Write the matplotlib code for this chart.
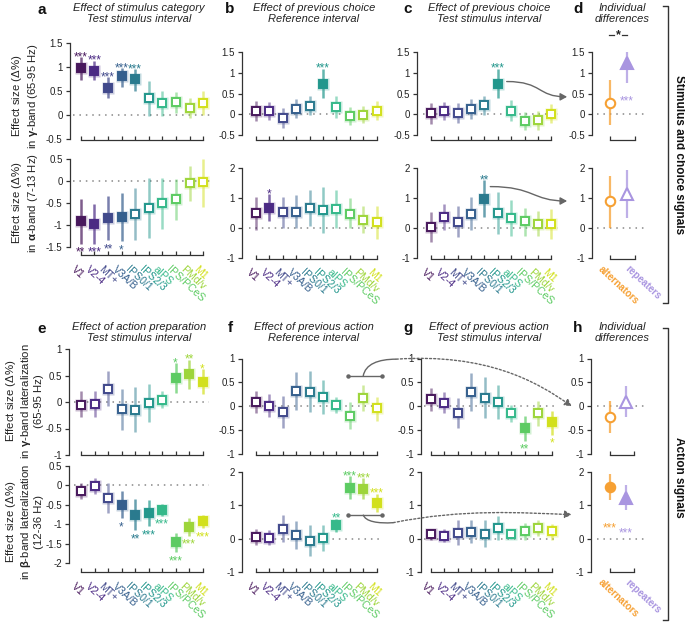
import matplotlib
matplotlib.use('Agg')
import matplotlib.pyplot as plt
from matplotlib.path import Path
from matplotlib.patches import FancyArrowPatch, PathPatch

plt.rcParams['font.family'] = ['Liberation Sans', 'DejaVu Sans']
plt.rcParams['axes.unicode_minus'] = False
plt.rcParams['mathtext.fontset'] = 'custom'
plt.rcParams['mathtext.rm'] = 'Liberation Sans'
plt.rcParams['mathtext.it'] = 'Liberation Sans:italic'
plt.rcParams['mathtext.bf'] = 'Liberation Sans:bold'

# ---------------- data ----------------
regions = ['V1', 'V2-4', 'MT+', 'V3A/B', 'IPS0/1', 'IPS2/3', 'aIPS', 'IPS/PCeS', 'PMd/v', 'M1']
region_colors = ['#48185c', '#4b2a84', '#41498b', '#355f8d', '#2a7a8e', '#22978c',
                 '#35b98a', '#5ccb62', '#9dd53a', '#d2e01c']
groups = ['alternators', 'repeaters']
group_colors = ['#f6a033', '#a995e0']
group_markers = ['o', '^']

# a: stimulus category, test interval
a_gamma_mean = [0.98, 0.92, 0.57, 0.81, 0.74, 0.35, 0.24, 0.28, 0.14, 0.24]
a_gamma_lo = [0.73, 0.72, 0.35, 0.59, 0.51, -0.03, -0.03, 0.05, -0.07, 0.00]
a_gamma_hi = [1.21, 1.13, 0.79, 0.98, 0.96, 0.70, 0.49, 0.47, 0.35, 0.50]
a_gamma_stars = ['***', '***', '***', '***', '***', '', '', '', '', '']
a_alpha_mean = [-0.91, -0.98, -0.84, -0.81, -0.74, -0.62, -0.51, -0.42, -0.04, -0.03]
a_alpha_lo = [-1.43, -1.43, -1.35, -1.37, -1.35, -1.30, -1.10, -0.88, -0.45, -0.60]
a_alpha_hi = [-0.40, -0.53, -0.33, -0.27, -0.15, 0.07, 0.07, 0.05, 0.35, 0.50]
a_alpha_stars = ['**', '***', '**', '*', '', '', '', '', '', '']

# b: previous choice, reference interval
b_gamma_mean = [0.08, 0.08, -0.09, 0.13, 0.20, 0.74, 0.17, -0.04, -0.01, 0.08]
b_gamma_lo = [-0.17, -0.14, -0.33, -0.10, -0.03, 0.38, -0.10, -0.25, -0.22, -0.15]
b_gamma_hi = [0.33, 0.30, 0.14, 0.37, 0.43, 1.10, 0.45, 0.18, 0.20, 0.33]
b_gamma_stars = ['', '', '', '', '', '***', '', '', '', '']
b_alpha_mean = [0.50, 0.68, 0.52, 0.54, 0.66, 0.60, 0.62, 0.48, 0.27, 0.20]
b_alpha_lo = [-0.05, 0.22, 0.00, 0.00, 0.08, -0.15, 0.00, 0.00, -0.15, -0.35]
b_alpha_hi = [1.03, 1.12, 1.02, 1.10, 1.27, 1.38, 1.27, 1.00, 0.72, 0.72]
b_alpha_stars = ['', '*', '', '', '', '', '', '', '', '']

# c: previous choice, test interval
c_gamma_mean = [0.02, 0.08, 0.02, 0.12, 0.22, 0.74, 0.09, -0.17, -0.14, 0.01]
c_gamma_lo = [-0.23, -0.15, -0.22, -0.12, -0.02, 0.40, -0.17, -0.38, -0.37, -0.20]
c_gamma_hi = [0.27, 0.30, 0.27, 0.36, 0.45, 1.10, 0.35, 0.05, 0.07, 0.25]
c_gamma_stars = ['', '', '', '', '', '***', '', '', '', '']
c_alpha_mean = [0.03, 0.36, 0.20, 0.48, 0.98, 0.50, 0.34, 0.22, 0.15, 0.12]
c_alpha_lo = [-0.48, -0.08, -0.30, -0.05, 0.38, -0.20, -0.25, -0.25, -0.25, -0.38]
c_alpha_hi = [0.55, 0.80, 0.72, 1.03, 1.60, 1.20, 0.92, 0.68, 0.57, 0.65]
c_alpha_stars = ['', '', '', '', '**', '', '', '', '', '']

# d: individual differences (choice)
d_gamma_mean = [0.27, 1.23]
d_gamma_lo = [-0.27, 0.75]
d_gamma_hi = [0.82, 1.70]
d_gamma_filled = [False, True]
d_alpha_mean = [0.90, 1.15]
d_alpha_lo = [0.00, 0.33]
d_alpha_hi = [1.75, 1.92]
d_alpha_filled = [False, False]

# e: action preparation, test interval
e_gamma_mean = [-0.05, -0.04, 0.25, -0.14, -0.15, -0.01, 0.04, 0.45, 0.53, 0.38]
e_gamma_lo = [-0.28, -0.28, -0.08, -0.52, -0.57, -0.37, -0.12, 0.17, 0.25, 0.15]
e_gamma_hi = [0.20, 0.20, 0.58, 0.25, 0.28, 0.34, 0.20, 0.73, 0.80, 0.62]
e_gamma_stars = ['', '', '', '', '', '', '', '*', '**', '*']
e_beta_mean = [-0.15, -0.02, -0.33, -0.50, -0.77, -0.72, -0.64, -1.47, -1.08, -0.93]
e_beta_lo = [-0.35, -0.22, -0.72, -0.85, -1.15, -1.05, -0.78, -1.72, -1.30, -1.10]
e_beta_hi = [0.05, 0.18, 0.05, -0.15, -0.35, -0.37, -0.48, -1.22, -0.85, -0.75]
e_beta_stars = ['', '', '', '*', '**', '***', '***', '***', '***', '***']

# f: previous action, reference interval
f_gamma_mean = [0.08, 0.01, -0.12, 0.32, 0.30, 0.19, 0.02, -0.20, 0.18, -0.04]
f_gamma_lo = [-0.15, -0.23, -0.45, -0.08, -0.13, -0.17, -0.15, -0.48, -0.10, -0.30]
f_gamma_hi = [0.32, 0.25, 0.22, 0.72, 0.73, 0.55, 0.20, 0.08, 0.45, 0.20]
f_gamma_stars = [''] * 10
f_beta_mean = [0.04, 0.03, 0.30, 0.10, -0.06, 0.02, 0.40, 1.52, 1.50, 1.07]
f_beta_lo = [-0.20, -0.20, -0.10, -0.30, -0.52, -0.37, 0.20, 1.18, 1.20, 0.80]
f_beta_hi = [0.28, 0.27, 0.70, 0.52, 0.42, 0.42, 0.60, 1.88, 1.82, 1.35]
f_beta_stars = ['', '', '', '', '', '', '**', '***', '***', '***']

# g: previous action, test interval
g_gamma_mean = [0.15, 0.07, -0.14, 0.30, 0.18, 0.09, -0.14, -0.46, -0.15, -0.34]
g_gamma_lo = [-0.10, -0.15, -0.45, -0.10, -0.25, -0.27, -0.32, -0.72, -0.42, -0.60]
g_gamma_hi = [0.38, 0.30, 0.18, 0.70, 0.62, 0.45, 0.02, -0.20, 0.12, -0.10]
g_gamma_stars = ['', '', '', '', '', '', '', '**', '', '*']
g_beta_mean = [0.13, 0.09, 0.17, 0.21, 0.15, 0.31, 0.13, 0.22, 0.32, 0.22]
g_beta_lo = [-0.05, -0.10, -0.20, -0.12, -0.25, -0.05, 0.00, -0.03, 0.07, -0.05]
g_beta_hi = [0.30, 0.28, 0.55, 0.55, 0.57, 0.68, 0.27, 0.48, 0.57, 0.45]
g_beta_stars = [''] * 10

# h: individual differences (action)
h_gamma_mean = [-0.22, 0.09]
h_gamma_lo = [-0.57, -0.22]
h_gamma_hi = [0.12, 0.42]
h_gamma_filled = [False, False]
h_beta_mean = [1.55, 1.22]
h_beta_lo = [1.15, 0.85]
h_beta_hi = [1.95, 1.62]
h_beta_filled = [True, True]

W, H = 685, 623
fig = plt.figure(figsize=(W / 100, H / 100), dpi=100)
AX_COL = '#333333'


def make_ax(spine_x, right_x, x0, dx, top_px, bot_px, vA, pA, vB, pB):
    ax = fig.add_axes([spine_x / W, 1 - bot_px / H, (right_x - spine_x) / W, (bot_px - top_px) / H])
    ax.set_xlim((spine_x - x0) / dx, (right_x - x0) / dx)

    def v(p):
        return vA + (p - pA) * (vB - vA) / (pB - pA)
    ax.set_ylim(v(bot_px), v(top_px))
    ax.patch.set_alpha(0)
    for s in ['top', 'right']:
        ax.spines[s].set_visible(False)
    for s in ['left', 'bottom']:
        ax.spines[s].set_color(AX_COL)
        ax.spines[s].set_linewidth(0.9)
    return ax


def fmt(v):
    return '{:g}'.format(v)


def style_axes(ax, yticks, xbounds, xticks):
    ax.spines['left'].set_bounds(min(yticks), max(yticks))
    ax.spines['bottom'].set_bounds(*xbounds)
    ax.set_yticks(yticks)
    ax.set_yticklabels([fmt(t) for t in yticks], fontsize=7, color='#222222')
    ax.set_xticks(xticks)
    ax.set_xticklabels([])
    ax.tick_params(axis='y', direction='out', length=3, width=0.9, color=AX_COL, pad=2)
    ax.tick_params(axis='x', direction='in', length=3, width=0.9, color=AX_COL)


def zero_line(ax, x_from, x_to):
    ax.plot([x_from, x_to], [0, 0], color='#888888', lw=1.1, ls=(0, (1, 3.2)), zorder=1,
            clip_on=False)


def star(ax, x, y, txt, color, above):
    if above:
        ax.annotate(txt, xy=(x, y), xytext=(0, -2.2), textcoords='offset points',
                    ha='center', va='baseline', fontsize=8.5, color=color, annotation_clip=False)
    else:
        ax.annotate(txt, xy=(x, y), xytext=(0, -8.6), textcoords='offset points',
                    ha='center', va='baseline', fontsize=8.5, color=color, annotation_clip=False)


def draw_regions(ax, mean, lo, hi, stars, yticks, labels):
    n = len(regions)
    style_axes(ax, yticks, (0, n - 1), list(range(n)))
    zero_line(ax, -0.55, n - 0.5)
    for i in range(n):
        c = region_colors[i]
        filled = stars[i] != ''
        ax.vlines(i, lo[i], hi[i], color=c, alpha=0.5 if not filled else 0.7, lw=1.8, zorder=2)
        ax.plot(i, mean[i], marker='s', ms=8.2, mfc=c, mec='none', alpha=0.28, zorder=3,
                clip_on=False)
        ax.plot(i, mean[i], marker='s', ms=6.2, mfc=c if filled else 'white', mec=c, mew=1.4,
                zorder=4, clip_on=False)
        if stars[i]:
            if mean[i] >= 0:
                star(ax, i, hi[i], stars[i], c, True)
            else:
                star(ax, i, lo[i], stars[i], c, False)
    if labels:
        for i, r in enumerate(regions):
            ax.annotate(r, xy=(i, 0), xycoords=('data', 'axes fraction'), xytext=(-3, -6.5),
                        textcoords='offset points', rotation=-43, ha='left', va='top',
                        rotation_mode='anchor', fontsize=7.6, color=region_colors[i],
                        annotation_clip=False)


def draw_groups(ax, mean, lo, hi, filled, yticks, labels):
    style_axes(ax, yticks, (0, 1.5), [0, 1.5])
    zero_line(ax, -0.8, 2.1)
    for i in range(2):
        c = group_colors[i]
        ax.vlines(i, lo[i], hi[i], color=c, alpha=0.75, lw=1.6, zorder=2)
        ms = 6.8 if group_markers[i] == 'o' else 8.2
        ax.plot(i, mean[i], marker=group_markers[i], ms=ms, mfc=c if filled[i] else 'white',
                mec=c, mew=1.5, zorder=4, clip_on=False)
    if labels:
        for i, g in enumerate(groups):
            ax.annotate(g, xy=(1.5 * i, 0), xycoords=('data', 'axes fraction'),
                        xytext=(-5 + 2 * i, -4), textcoords='offset points', rotation=-43,
                        ha='left', va='top', rotation_mode='anchor', fontsize=7.1,
                        fontweight='bold', color=group_colors[i], annotation_clip=False)


# ---------------- axes ----------------
g_ticks_a = [-0.5, 0, 0.5, 1, 1.5]
al_ticks_a = [-1.5, -1, -0.5, 0, 0.5]
g_ticks_b = [-0.5, 0, 0.5, 1, 1.5]
al_ticks_b = [-1, 0, 1, 2]
e_g_ticks = [-1, -0.5, 0, 0.5, 1]
e_b_ticks = [-2, -1.5, -1, -0.5, 0, 0.5]
fg_ticks = [-1, -0.5, 0, 0.5, 1]
fb_ticks = [-1, 0, 1, 2]

# top half
ax_a1 = make_ax(69.5, 214, 80.7, 13.6, 43, 140, 1.5, 43, -0.5, 139)
ax_a2 = make_ax(69.5, 214, 80.7, 13.6, 159, 255, 0.5, 159, -1.5, 247)
ax_b1 = make_ax(242, 388, 256, 13.4, 52, 140, 1.5, 52, -0.5, 135)
ax_b2 = make_ax(242, 388, 256, 13.4, 168, 258.5, 2, 168, -1, 258)
ax_c1 = make_ax(417, 563, 430.7, 13.4, 52, 140, 1.5, 52, -0.5, 135)
ax_c2 = make_ax(417, 563, 430.7, 13.4, 168, 258.5, 2, 168, -1, 258)
ax_d1 = make_ax(592, 646, 610, 16.5, 52, 140, 1.5, 52, -0.5, 135)
ax_d2 = make_ax(592, 646, 610, 16.5, 168, 258.5, 2, 168, -1, 258)
# bottom half
ax_e1 = make_ax(69, 212, 81, 13.5, 349, 455, 1, 349, -1, 455)
ax_e2 = make_ax(69, 212, 81, 13.5, 466, 572, 0.5, 466, -2, 563)
ax_f1 = make_ax(242, 388, 256, 13.4, 358.5, 454.5, 1, 358.5, -1, 454)
ax_f2 = make_ax(242, 388, 256, 13.4, 472, 572, 2, 472, -1, 572)
ax_g1 = make_ax(421, 563, 431, 13.4, 358.5, 454.5, 1, 358.5, -1, 454)
ax_g2 = make_ax(421, 563, 431, 13.4, 472, 572, 2, 472, -1, 572)
ax_h1 = make_ax(591, 646, 610, 16, 358.5, 454.5, 1, 358.5, -1, 454)
ax_h2 = make_ax(591, 646, 610, 16, 472, 572, 2, 472, -1, 572)

draw_regions(ax_a1, a_gamma_mean, a_gamma_lo, a_gamma_hi, a_gamma_stars, g_ticks_a, False)
draw_regions(ax_a2, a_alpha_mean, a_alpha_lo, a_alpha_hi, a_alpha_stars, al_ticks_a, True)
draw_regions(ax_b1, b_gamma_mean, b_gamma_lo, b_gamma_hi, b_gamma_stars, g_ticks_b, False)
draw_regions(ax_b2, b_alpha_mean, b_alpha_lo, b_alpha_hi, b_alpha_stars, al_ticks_b, True)
draw_regions(ax_c1, c_gamma_mean, c_gamma_lo, c_gamma_hi, c_gamma_stars, g_ticks_b, False)
draw_regions(ax_c2, c_alpha_mean, c_alpha_lo, c_alpha_hi, c_alpha_stars, al_ticks_b, True)
draw_groups(ax_d1, d_gamma_mean, d_gamma_lo, d_gamma_hi, d_gamma_filled, g_ticks_b, False)
draw_groups(ax_d2, d_alpha_mean, d_alpha_lo, d_alpha_hi, d_alpha_filled, al_ticks_b, True)
draw_regions(ax_e1, e_gamma_mean, e_gamma_lo, e_gamma_hi, e_gamma_stars, e_g_ticks, False)
draw_regions(ax_e2, e_beta_mean, e_beta_lo, e_beta_hi, e_beta_stars, e_b_ticks, True)
draw_regions(ax_f1, f_gamma_mean, f_gamma_lo, f_gamma_hi, f_gamma_stars, fg_ticks, False)
draw_regions(ax_f2, f_beta_mean, f_beta_lo, f_beta_hi, f_beta_stars, fb_ticks, True)
draw_regions(ax_g1, g_gamma_mean, g_gamma_lo, g_gamma_hi, g_gamma_stars, fg_ticks, False)
draw_regions(ax_g2, g_beta_mean, g_beta_lo, g_beta_hi, g_beta_stars, fb_ticks, True)
draw_groups(ax_h1, h_gamma_mean, h_gamma_lo, h_gamma_hi, h_gamma_filled, fg_ticks, False)
draw_groups(ax_h2, h_beta_mean, h_beta_lo, h_beta_hi, h_beta_filled, fb_ticks, True)

# special significance annotations in group panels
ax_d1.text(1, 0.3, '***', color=group_colors[1], fontsize=8.5, ha='center', va='center')
ax_h2.text(0, 0.3, '***', color=group_colors[0], fontsize=8.5, ha='center', va='center')
ax_h2.text(1, 0.17, '***', color=group_colors[1], fontsize=8.5, ha='center', va='center')

# ---------------- overlay ----------------
ov = fig.add_axes([0, 0, 1, 1], zorder=10)
ov.set_xlim(0, W)
ov.set_ylim(H, 0)
ov.axis('off')
ov.patch.set_alpha(0)


def px(ax, x, y):
    X, Y = ax.transData.transform((x, y))
    return X, H - Y


ital = dict(fontsize=8.0, style='italic', ha='center', va='top', color='#222222', linespacing=1.1)
ov.text(139, 3, 'Effect of stimulus category\nTest stimulus interval', **ital)
ov.text(314, 3, 'Effect of previous choice\nReference interval', **ital)
ov.text(489, 3, 'Effect of previous choice\nTest stimulus interval', **ital)
ov.text(622, 3, 'Individual\ndifferences', **ital)
ov.text(139, 322, 'Effect of action preparation\nTest stimulus interval', **ital)
ov.text(314, 322, 'Effect of previous action\nReference interval', **ital)
ov.text(489, 322, 'Effect of previous action\nTest stimulus interval', **ital)
ov.text(622, 322, 'Individual\ndifferences', **ital)

letters = dict(fontsize=11, fontweight='bold', ha='center', va='top', color='#111111')
for t, x, y in [('a', 42, 3), ('b', 230, 2), ('c', 408, 2), ('d', 578, 2),
                ('e', 42, 322), ('f', 230, 321), ('g', 408, 321), ('h', 578, 321)]:
    ov.text(x, y, t, **letters)

yl = dict(fontsize=8.2, rotation=90, ha='center', va='center', color='#222222', linespacing=1.15)
ov.text(25, 96, 'Effect size ($\\Delta$%)\nin $\\mathbf{\\gamma}$-band (65-95 Hz)', **yl)
ov.text(25, 203, 'Effect size ($\\Delta$%)\nin $\\mathbf{\\alpha}$-band (7-13 Hz)', **yl)
ov.text(24, 401, 'Effect size ($\\Delta$%)\nin $\\mathbf{\\gamma}$-band lateralization\n(65-95 Hz)', **yl)
ov.text(24, 522, 'Effect size ($\\Delta$%)\nin $\\mathbf{\\beta}$-band lateralization\n(12-36 Hz)', **yl)

# right brackets
for (y0, y1, ym, label) in [(6, 303, 155, 'Stimulus and choice signals'),
                             (328, 620, 477, 'Action signals')]:
    ov.plot([663, 668, 668, 663], [y0, y0, y1, y1], color='#333333', lw=1.0)
    ov.text(679, ym, label, rotation=-90, ha='center', va='center', fontsize=8.5,
            fontweight='bold', color='#111111')

# d: significance between groups
ov.plot([609, 614], [35, 35], color='#333333', lw=0.9)
ov.plot([622, 627], [35, 35], color='#333333', lw=0.9)
ov.text(618, 38, '*', fontsize=9, fontweight='bold', ha='center', va='baseline', color='#222222')

ARC = '#666666'


def curve(p0, p1, p2, p3, ls='-', arrow=False):
    path = Path([p0, p1, p2, p3], [Path.MOVETO, Path.CURVE4, Path.CURVE4, Path.CURVE4])
    if arrow:
        patch = FancyArrowPatch(path=path, arrowstyle='-|>,head_length=4,head_width=2.2',
                                color=ARC, lw=1.0, linestyle=ls, mutation_scale=1)
    else:
        patch = PathPatch(path, fc='none', ec=ARC, lw=1.0, linestyle=ls)
    ov.add_patch(patch)


# arrows from c to d
sx, sy = px(ax_c1, 5, c_gamma_mean[5])
ex, ey = px(ax_d1, -2.6, 0.42)
curve((sx + 9, sy - 2), (sx + 45, sy - 2), (ex - 30, ey), (ex, ey), arrow=True)
sx, sy = px(ax_c2, 4, c_alpha_mean[4])
ex, ey = px(ax_d2, -2.6, 0.9)
curve((sx + 6, sy - 12), (sx + 50, sy - 12), (ex - 35, ey), (ex, ey), arrow=True)

# brackets and dotted arcs from f to h
for axf, yb, axh, yh, up in [(ax_f1, 0.63, ax_h1, 0.0, True), (ax_f2, 0.72, ax_h2, 0.72, False)]:
    lx, by = px(axf, 6.9, yb)
    rx, _ = px(axf, 9.4, yb)
    mx, _ = px(axf, 8, yb)
    ov.plot([lx, rx], [by, by], color=ARC, lw=1.0)
    ov.plot([lx, rx], [by, by], ls='none', marker='o', ms=2.2, color=ARC)
    hx, hy = px(axh, -2.4, yh)
    if up:
        q = (mx + 33, by - 17)
        curve((mx, by), (mx + 2, by - 12), (mx + 15, by - 17), q)
        curve(q, (q[0] + 90, q[1] - 6), (hx - 35, hy - 25), (hx, hy), ls=(0, (1.5, 1.5)), arrow=True)
    else:
        q = (mx + 30, by + 8)
        curve((mx, by), (mx + 2, by + 7), (mx + 15, by + 9), q)
        curve(q, (q[0] + 70, q[1] - 14), (hx - 50, hy - 2), (hx, hy), ls=(0, (1.5, 1.5)), arrow=True)

fig.savefig('out.png', dpi=100)
